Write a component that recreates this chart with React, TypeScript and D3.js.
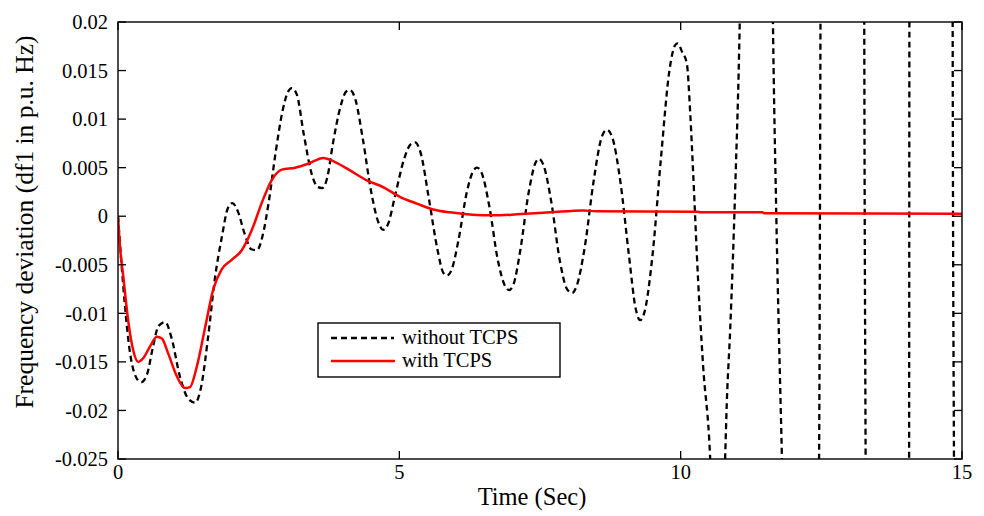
import React from "react";
import * as d3 from "d3";

const xTicks = [0, 5, 10, 15];
const yTicks = [0.02, 0.015, 0.01, 0.005, 0, -0.005, -0.01, -0.015, -0.02, -0.025];
const yTickLabels = ["0.02", "0.015", "0.01", "0.005", "0", "-0.005", "-0.01", "-0.015", "-0.02", "-0.025"];

const timeWithout = [
  0, 0.05, 0.12, 0.2, 0.3, 0.41, 0.52, 0.62, 0.72, 0.84, 0.95, 1.1, 1.25, 1.37, 1.48, 1.6, 1.72, 1.85, 1.95, 2.03,
  2.13, 2.25, 2.37, 2.47, 2.57, 2.68, 2.8, 2.93, 3.02, 3.09, 3.18, 3.3, 3.45, 3.55, 3.63, 3.72, 3.82, 3.95, 4.05, 4.12,
  4.22, 4.35, 4.5, 4.62, 4.71, 4.8, 4.92, 5.08, 5.2, 5.28, 5.38, 5.52, 5.68, 5.78, 5.85, 5.93, 6.05, 6.2, 6.3, 6.38,
  6.46, 6.6, 6.75, 6.88, 6.95, 7.03, 7.15, 7.3, 7.42, 7.48, 7.56, 7.7, 7.85, 7.98, 8.07, 8.15, 8.3, 8.45, 8.6, 8.69,
  8.78, 8.93, 9.08, 9.2, 9.28, 9.36, 9.5, 9.65, 9.8, 9.9, 9.95, 10.02, 10.11, 10.17, 10.22, 10.31, 10.4, 10.52, 10.56, 10.66,
  10.79, 10.82, 10.88, 10.97, 11.05, 11.08, 11.35,
  11.62, 11.64, 11.7, 11.8, 11.82, 12.1,
  12.45, 12.46, 12.485, 12.49, 12.9,
  13.26, 13.263, 13.287, 13.29, 13.7,
  14.058, 14.06, 14.065, 14.067, 14.45,
  14.832, 14.834, 14.857, 14.86, 15,
];
const dfWithout = [
  0, -0.004, -0.009, -0.0135, -0.0163, -0.0171, -0.0162, -0.0135, -0.0113, -0.0109, -0.0125, -0.0165, -0.0188, -0.0192, -0.0175, -0.0125, -0.0065, -0.002, 0.0008, 0.00135,
  0.0005, -0.0018, -0.0034, -0.0035, -0.002, 0.0015, 0.0065, 0.011, 0.0128, 0.0132, 0.0125, 0.0085, 0.0042, 0.003, 0.0029, 0.004, 0.0075, 0.0112, 0.0128, 0.013,
  0.012, 0.008, 0.0025, -0.0005, -0.0014, -0.0008, 0.002, 0.0058, 0.0074, 0.0076, 0.0065, 0.002, -0.0035, -0.0058, -0.0061, -0.0055, -0.0025, 0.0025, 0.0045, 0.005,
  0.0045, 0.001, -0.0045, -0.0072, -0.0076, -0.007, -0.0035, 0.0025, 0.0055, 0.0059, 0.0053, 0.0015, -0.0045, -0.0075, -0.0079, -0.0072, -0.003, 0.0035, 0.0082, 0.0089,
  0.0082, 0.0035, -0.004, -0.0095, -0.0107, -0.0098, -0.004, 0.006, 0.015, 0.0176, 0.0178, 0.017, 0.0157, 0.0106, 0.0047, -0.0066, -0.0155, -0.0244, -0.03, -0.05,
  -0.025, -0.0192, -0.0117, 0.003, 0.02, 0.03, 0.08,
  0.03, 0.02, 0.0, -0.025, -0.03, -0.08,
  -0.03, -0.025, 0.02, 0.03, 0.1,
  0.03, 0.02, -0.025, -0.03, -0.1,
  -0.03, -0.025, 0.02, 0.03, 0.1,
  0.03, 0.02, -0.025, -0.03, -0.1,
];

const timeWith = [
  0, 0.035, 0.094, 0.18, 0.27, 0.36, 0.45, 0.57, 0.69, 0.78, 0.89, 1.04, 1.19, 1.28, 1.4, 1.55, 1.69, 1.84, 2.02, 2.2,
  2.38, 2.55, 2.73, 2.91, 3.15, 3.38, 3.65, 3.85, 4.1, 4.42, 4.71, 5.01, 5.31, 5.6, 5.9, 6.2, 6.49, 6.79, 7.09, 7.68,
  8.27, 8.5, 10.3, 10.35, 11.45, 11.5, 15,
];
const dfWith = [
  0, -0.0031, -0.0062, -0.0107, -0.0138, -0.015, -0.0146, -0.0134, -0.0124, -0.0126, -0.0141, -0.0164, -0.0177, -0.0176, -0.0155, -0.0114, -0.0076, -0.0055, -0.0045, -0.0035,
  -0.0014, 0.0013, 0.0037, 0.0048, 0.005, 0.0054, 0.006, 0.0056, 0.0048, 0.0037, 0.003, 0.002, 0.0013, 0.0007, 0.0004, 0.0002, 0.0001, 0.0001, 0.0002, 0.0004,
  0.0006, 0.0005, 0.00047, 0.0004, 0.0004, 0.0003, 0.00025,
];

const legendLabels = ["without TCPS", "with TCPS"];
const xLabel = "Time (Sec)";
const yLabel = "Frequency deviation (df1 in p.u. Hz)";

export default function App() {
  const W = 984, H = 516;
  const left = 118, right = 962, top = 22, bottom = 459;
  const x = d3.scaleLinear().domain([0, 15]).range([left, right]);
  const y = d3.scaleLinear().domain([-0.025, 0.02]).range([bottom, top]);
  const font = "'Liberation Serif', 'Times New Roman', serif";

  const line = d3
    .line<[number, number]>()
    .x((d) => x(d[0]))
    .y((d) => y(d[1]))
    .curve(d3.curveMonotoneX);
  const pWithout = line(timeWithout.map((t, i) => [t, dfWithout[i]] as [number, number])) || "";
  const pWith = line(timeWith.map((t, i) => [t, dfWith[i]] as [number, number])) || "";

  const tl = 8;
  const lg = { x: 318, y: 323, w: 242, h: 54 };

  return (
    <svg width={W} height={H} style={{ position: "absolute", left: 0, top: 0, background: "#fff" }} fontFamily={font}>
      <rect x={0} y={0} width={W} height={H} fill="#fff" />
      <defs>
        <clipPath id="plotclip">
          <rect x={left} y={top} width={right - left} height={bottom - top} />
        </clipPath>
      </defs>
      <g clipPath="url(#plotclip)">
        <path d={pWithout} fill="none" stroke="#000" strokeWidth={2.3} strokeDasharray="6,4" />
        <path d={pWith} fill="none" stroke="#ff0000" strokeWidth={2.5} />
      </g>
      <rect x={left} y={top} width={right - left} height={bottom - top} fill="none" stroke="#000" strokeWidth={1.4} />
      {yTicks.map((v, i) => (
        <g key={"y" + i}>
          <line x1={left} x2={left + tl} y1={y(v)} y2={y(v)} stroke="#000" strokeWidth={1.3} />
          <line x1={right} x2={right - tl} y1={y(v)} y2={y(v)} stroke="#000" strokeWidth={1.3} />
          <text x={108} y={y(v)} dy="0.35em" textAnchor="end" fontSize={20.5} fill="#000">
            {yTickLabels[i]}
          </text>
        </g>
      ))}
      {xTicks.map((v, i) => (
        <g key={"x" + i}>
          <line x1={x(v)} x2={x(v)} y1={bottom} y2={bottom - tl} stroke="#000" strokeWidth={1.3} />
          <line x1={x(v)} x2={x(v)} y1={top} y2={top + tl} stroke="#000" strokeWidth={1.3} />
          <text x={x(v)} y={479} textAnchor="middle" fontSize={20.5} fill="#000">
            {String(v)}
          </text>
        </g>
      ))}
      <text x={532} y={505} textAnchor="middle" fontSize={24.5} fill="#000">
        {xLabel}
      </text>
      <text transform={`translate(33,222) rotate(-90)`} textAnchor="middle" fontSize={25.5} fill="#000">
        {yLabel}
      </text>
      <rect x={lg.x} y={lg.y} width={lg.w} height={lg.h} fill="#fff" stroke="#000" strokeWidth={1.4} />
      <line x1={331} x2={394} y1={338} y2={338} stroke="#000" strokeWidth={2.3} strokeDasharray="6,4" />
      <line x1={331} x2={395} y1={361} y2={361} stroke="#ff0000" strokeWidth={2.5} />
      <text x={402} y={344} fontSize={20.5} fill="#000">{legendLabels[0]}</text>
      <text x={402} y={367} fontSize={20.5} fill="#000">{legendLabels[1]}</text>
    </svg>
  );
}
